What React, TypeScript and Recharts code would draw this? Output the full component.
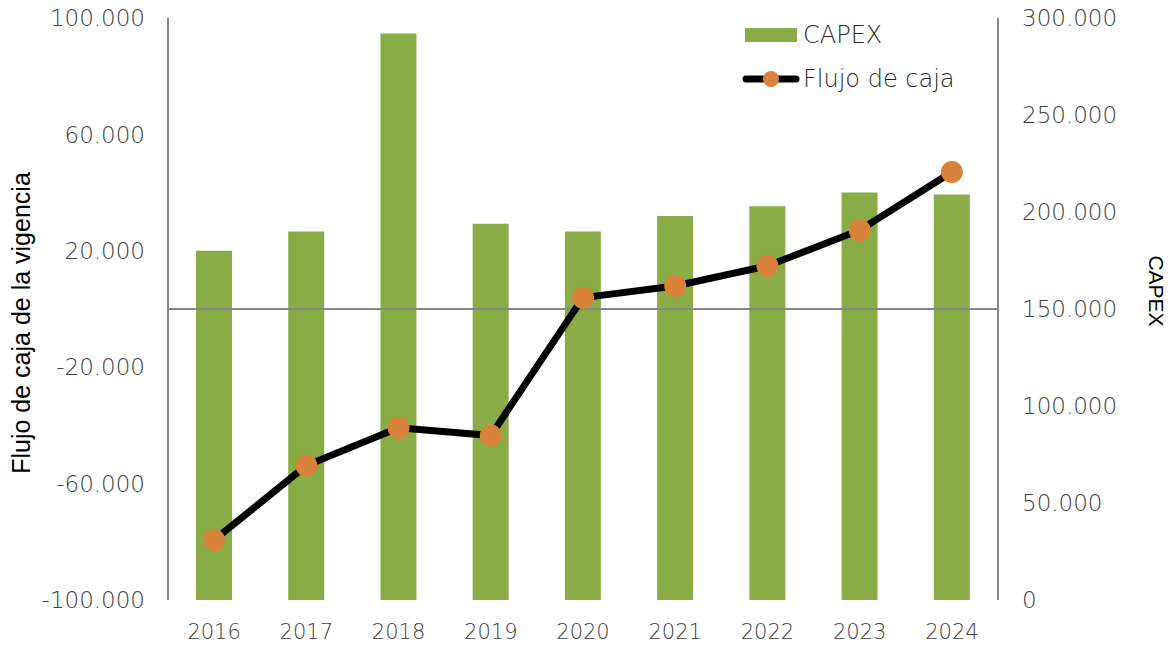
import { ComposedChart, Bar, Line, XAxis, YAxis, ReferenceLine } from "recharts";

const years = ["2016", "2017", "2018", "2019", "2020", "2021", "2022", "2023", "2024"];
const capex = [180000, 190000, 292000, 194000, 190000, 198000, 203000, 210000, 209000];
const flujo = [-79400, -53800, -40800, -43500, 3900, 7900, 14800, 27100, 47100];

const leftTicks = [-100000, -60000, -20000, 20000, 60000, 100000];
const rightTicks = [0, 50000, 100000, 150000, 200000, 250000, 300000];

const data = years.map((year, i) => ({ year, capex: capex[i], flujo: flujo[i] }));

const GREEN = "#8AAC46";
const ORANGE = "#D9823B";
const AXIS = "#868686";
const TICK_FONT = "'DejaVu Sans', sans-serif";

// thousands with a dot, like the source
const fmt = (v: number) => {
  const s = Math.abs(v).toString().replace(/\B(?=(\d{3})+(?!\d))/g, ".");
  return v < 0 ? "-" + s : s;
};

const tickStyle = { fill: "#404040", fontSize: 23, fontFamily: TICK_FONT, fontWeight: 300 };

const LeftTitle = (props: any) => {
  const { x, y, height } = props.viewBox;
  const cx = x + 21;
  const cy = y + height / 2 + 14;
  return (
    <text x={cx} y={cy} transform={`rotate(-90 ${cx} ${cy})`} textAnchor="middle" dominantBaseline="central"
      fontFamily="'Liberation Sans', Arial, sans-serif" fontSize={25} fill="#000">
      Flujo de caja de la vigencia
    </text>
  );
};

const RightTitle = (props: any) => {
  const { x, y, height } = props.viewBox;
  const cx = x + 158;
  const cy = y + height / 2 - 18;
  return (
    <text x={cx} y={cy} transform={`rotate(90 ${cx} ${cy})`} textAnchor="middle" dominantBaseline="central"
      fontFamily="'Liberation Sans', Arial, sans-serif" fontSize={21} fill="#000">
      CAPEX
    </text>
  );
};

const legendText = { fontFamily: TICK_FONT, fontSize: 24, fontWeight: 300, color: "#262626", marginLeft: 3 };

function ChartLegend() {
  return (
    <div style={{ position: "absolute", left: 742, top: 21, display: "flex", flexDirection: "column", gap: 16 }}>
      <div style={{ display: "flex", alignItems: "center", height: 28 }}>
        <svg width={58} height={28}>
          <rect x={3} y={7} width={52} height={14} fill={GREEN} />
        </svg>
        <span style={legendText}>CAPEX</span>
      </div>
      <div style={{ display: "flex", alignItems: "center", height: 28 }}>
        <svg width={58} height={28}>
          <line x1={4} y1={14} x2={54} y2={14} stroke="#000" strokeWidth={7} strokeLinecap="round" />
          <circle cx={29} cy={14} r={8} fill={ORANGE} />
        </svg>
        <span style={legendText}>Flujo de caja</span>
      </div>
    </div>
  );
}

export default function App() {
  return (
    <div style={{ position: "absolute", left: 0, top: 0, width: 1168, height: 646, background: "#fff" }}>
      <ComposedChart width={1168} height={646} data={data} margin={{ top: 18, right: 0, bottom: 0, left: 0 }}>
        <XAxis dataKey="year" axisLine={false} tickLine={false} tickSize={0} tickMargin={24} height={46}
          interval={0} tick={{ ...tickStyle, fontSize: 21 }} />
        <YAxis yAxisId="left" orientation="left" width={168} domain={[-100000, 100000]} ticks={leftTicks}
          tickFormatter={fmt} tickLine={false} tickSize={0} tickMargin={23} interval={0}
          axisLine={{ stroke: AXIS, strokeWidth: 2 }} tick={tickStyle} label={LeftTitle} />
        <YAxis yAxisId="right" orientation="right" width={170} domain={[0, 300000]} ticks={rightTicks}
          tickFormatter={fmt} tickLine={false} tickSize={0} tickMargin={24} interval={0}
          axisLine={{ stroke: AXIS, strokeWidth: 2 }} tick={tickStyle} label={RightTitle} />
        <ReferenceLine yAxisId="left" y={0} stroke={AXIS} strokeWidth={2} />
        <Bar yAxisId="right" dataKey="capex" name="CAPEX" fill={GREEN} barSize={36} isAnimationActive={false} />
        <Line yAxisId="left" dataKey="flujo" name="Flujo de caja" type="linear" stroke="#000" strokeWidth={7}
          dot={{ r: 11, fill: ORANGE, stroke: "none", strokeWidth: 0 }} activeDot={false} isAnimationActive={false} />
      </ComposedChart>
      <ChartLegend />
    </div>
  );
}
